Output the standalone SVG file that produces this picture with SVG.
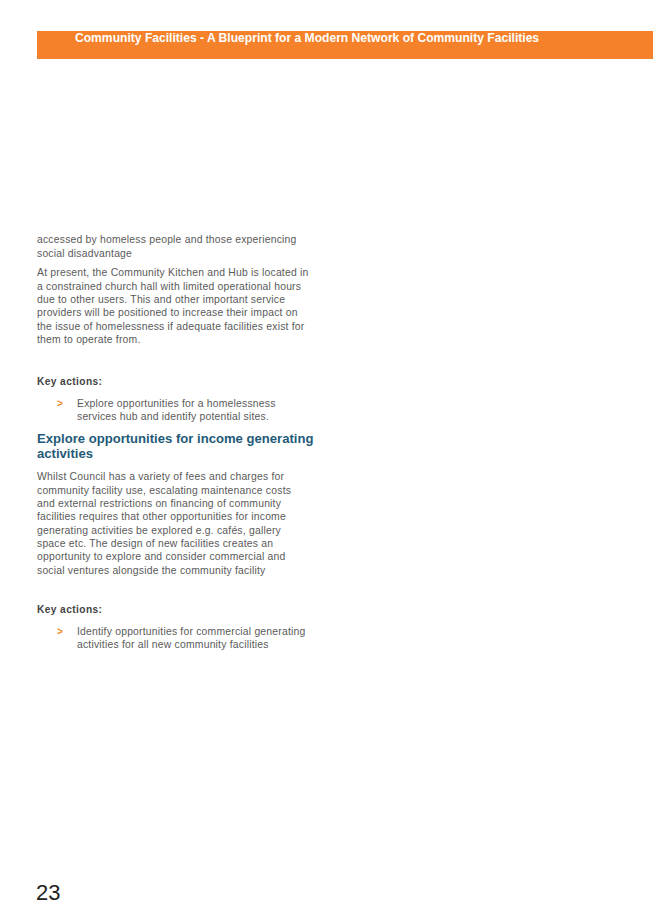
<svg xmlns="http://www.w3.org/2000/svg" width="653" height="923" viewBox="0 0 653 923">
<style>
.b{font-family:"Liberation Sans",Arial,sans-serif;font-size:10.4px;letter-spacing:0.2px;fill:#5a5a5a}
.k{font-family:"Liberation Sans",Arial,sans-serif;font-size:10.2px;letter-spacing:0.4px;font-weight:bold;fill:#444}
.h{font-family:"Liberation Sans",Arial,sans-serif;font-size:13.1px;font-weight:bold;fill:#1f5a78}
.a{font-family:"Liberation Sans",Arial,sans-serif;font-size:10px;font-weight:bold;fill:#f08a2c}
</style>
<rect width="653" height="923" fill="#fff"/>
<g id="header">
<rect x="37" y="31" width="616" height="28" fill="#f5822a"/>
<text x="75" y="42" font-family="Liberation Sans,Arial,sans-serif" font-size="12.1" font-weight="bold" fill="#fff">Community Facilities - A Blueprint for a Modern Network of Community Facilities</text>
</g>
<g id="body">
<text class="b" x="37" y="243">accessed by homeless people and those experiencing</text>
<text class="b" x="37" y="256.5">social disadvantage</text>
<text class="b" x="37" y="276">At present, the Community Kitchen and Hub is located in</text>
<text class="b" x="37" y="289.5">a constrained church hall with limited operational hours</text>
<text class="b" x="37" y="303">due to other users. This and other important service</text>
<text class="b" x="37" y="316">providers will be positioned to increase their impact on</text>
<text class="b" x="37" y="329.5">the issue of homelessness if adequate facilities exist for</text>
<text class="b" x="37" y="343">them to operate from.</text>
<text class="k" x="37" y="385">Key actions:</text>
<text class="a" x="57" y="407">&gt;</text>
<text class="b" x="77" y="407">Explore opportunities for a homelessness</text>
<text class="b" x="77" y="420">services hub and identify potential sites.</text>
<text class="h" x="37" y="443">Explore opportunities for income generating</text>
<text class="h" x="37" y="458">activities</text>
<text class="b" x="37" y="480">Whilst Council has a variety of fees and charges for</text>
<text class="b" x="37" y="493.5">community facility use, escalating maintenance costs</text>
<text class="b" x="37" y="507">and external restrictions on financing of community</text>
<text class="b" x="37" y="520">facilities requires that other opportunities for income</text>
<text class="b" x="37" y="533.5">generating activities be explored e.g. cafés, gallery</text>
<text class="b" x="37" y="547">space etc. The design of new facilities creates an</text>
<text class="b" x="37" y="560">opportunity to explore and consider commercial and</text>
<text class="b" x="37" y="573.5">social ventures alongside the community facility</text>
<text class="k" x="37" y="613">Key actions:</text>
<text class="a" x="57" y="635">&gt;</text>
<text class="b" x="77" y="635">Identify opportunities for commercial generating</text>
<text class="b" x="77" y="648">activities for all new community facilities</text>
</g>
<text x="36" y="900" font-family="Liberation Sans,Arial,sans-serif" font-size="22" fill="#222">23</text>
</svg>
